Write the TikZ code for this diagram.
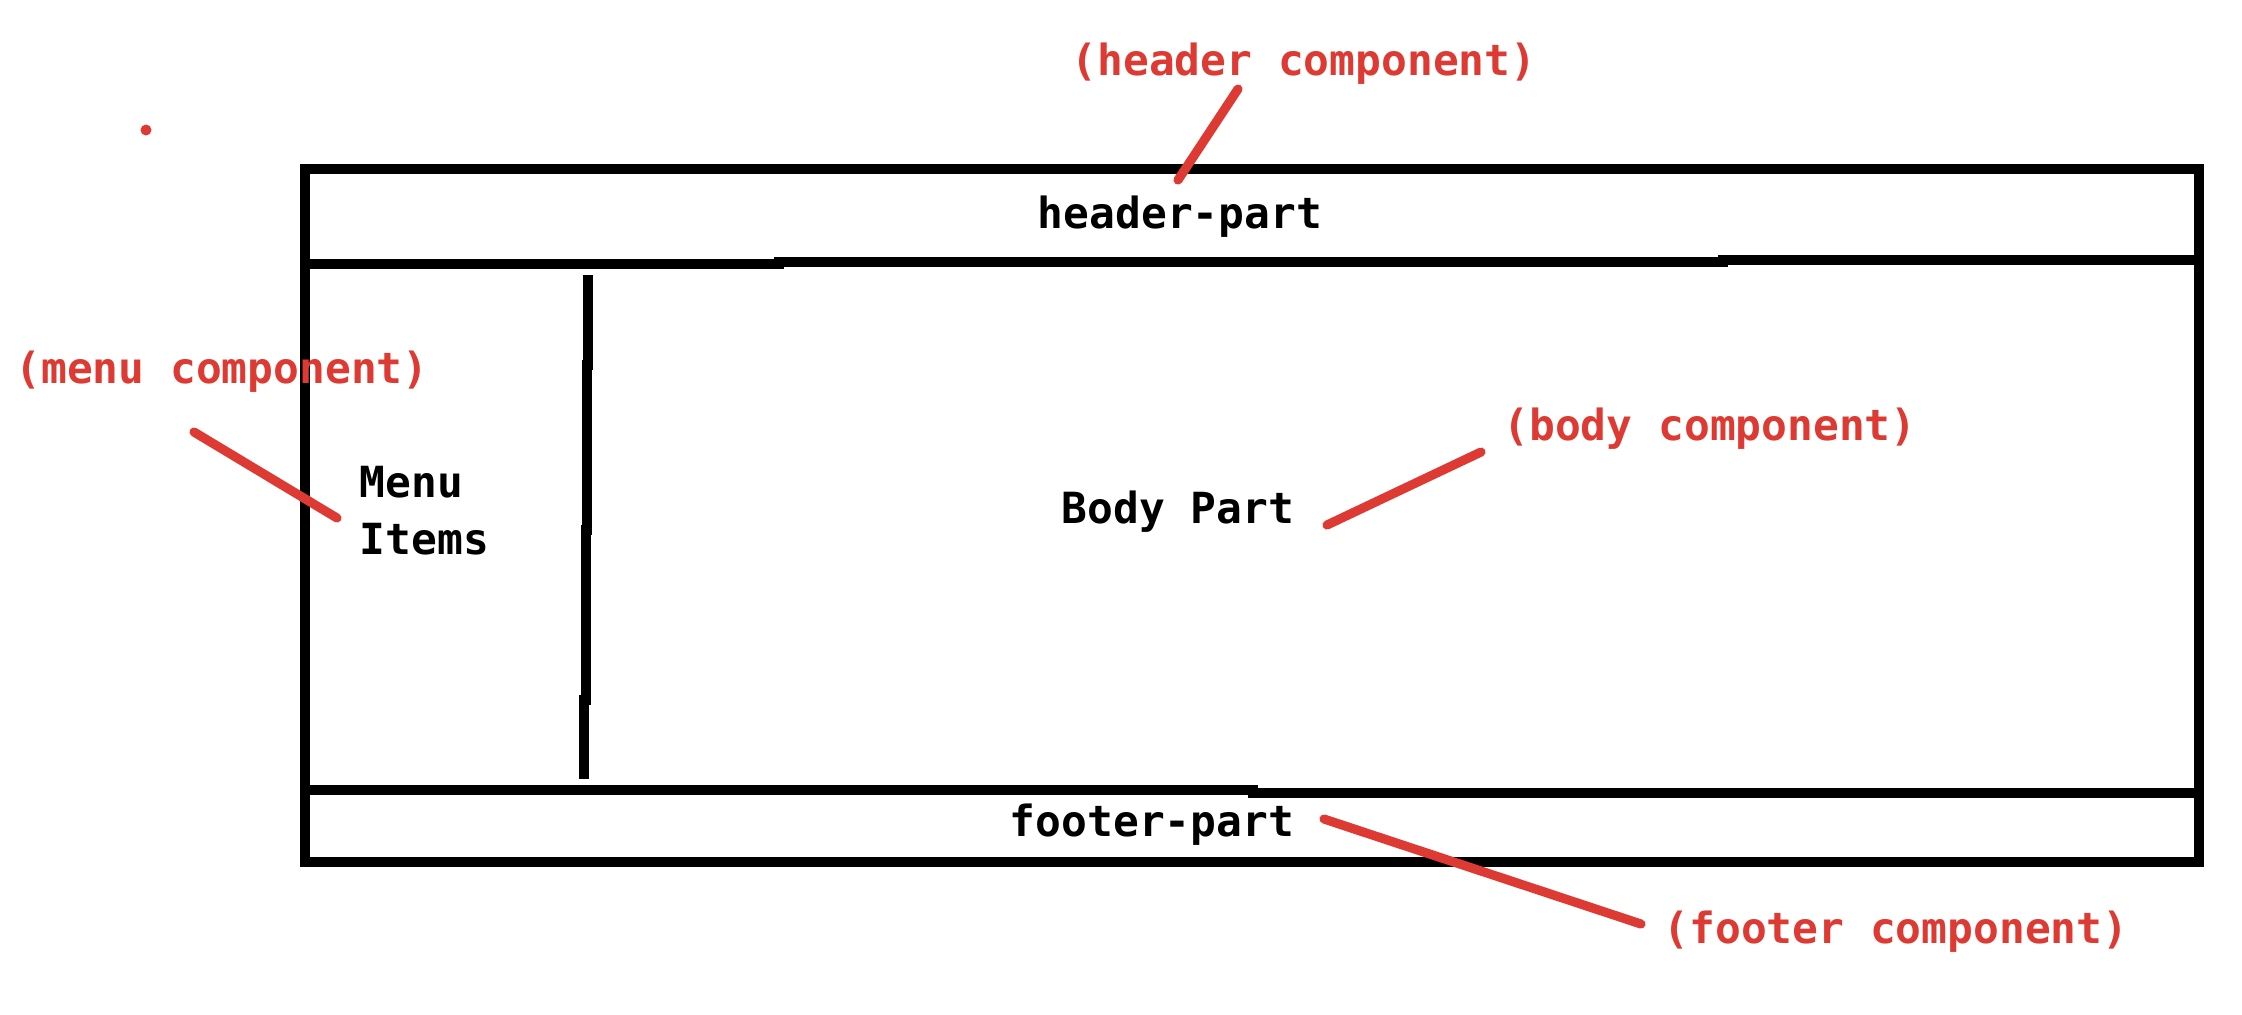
\documentclass[tikz,border=0pt]{standalone}
\usepackage{fontspec}
\setmonofont{DejaVu Sans Mono}
\usepackage{xcolor}
\definecolor{ink}{HTML}{000000}
\definecolor{marker}{HTML}{DC3A32}

\begin{document}
\begin{tikzpicture}[
    x=0.01cm, y=-0.01cm,
    font=\ttfamily\bfseries\fontsize{12.2}{16.2}\selectfont,
    frame/.style={draw=ink, line width=2.7pt},
    part/.style={text=ink, inner sep=0pt},
    note/.style={text=marker, inner sep=0pt},
    leader/.style={draw=marker, line width=2.6pt, line cap=round}
]
\useasboundingbox (0,0) rectangle (2242,1014);

% Page layout: outer frame, header and footer rules, menu divider.
\draw[frame] (305,169) rectangle (2199,862);
\draw[frame] (305,264) -- (779,264) -- (779,262) -- (1723,262) -- (1723,260) -- (2199,260);
\draw[frame] (305,790) -- (1253,790) -- (1253,793) -- (2199,793);
\draw[frame] (588,275) -- (588,365) -- (587,365) -- (587,530) -- (586,530)
    -- (586,700) -- (584,700) -- (584,779);

% Part names inside the layout.
\node[part] (header) at (1180,217) {header-part};
\node[part, anchor=west, align=left] (menu) at (359,511) {Menu\\Items};
\node[part] (body) at (1178,512) {Body Part};
\node[part] (footer) at (1152,825) {footer-part};

% Component names.
\node[note] (headercomp) at (1304,64) {(header component)};
\node[note] (menucomp) at (222,372) {(menu component)};
\node[note] (bodycomp) at (1710,429) {(body component)};
\node[note] (footercomp) at (1896,932) {(footer component)};

% Leader ends.
\coordinate (hA) at (1238,89);
\coordinate (hB) at (1178,180);
\coordinate (mA) at (194,432);
\coordinate (mB) at (337,518);
\coordinate (bA) at (1481,452);
\coordinate (bB) at (1327,525);
\coordinate (fA) at (1324,819);
\coordinate (fB) at (1641,924);

\draw[leader] (hA) -- (hB);
\draw[leader] (mA) -- (mB);
\draw[leader] (bA) -- (bB);
\draw[leader] (fA) -- (fB);

\fill[marker] (146,130) circle (5.5);
\end{tikzpicture}
\end{document}
